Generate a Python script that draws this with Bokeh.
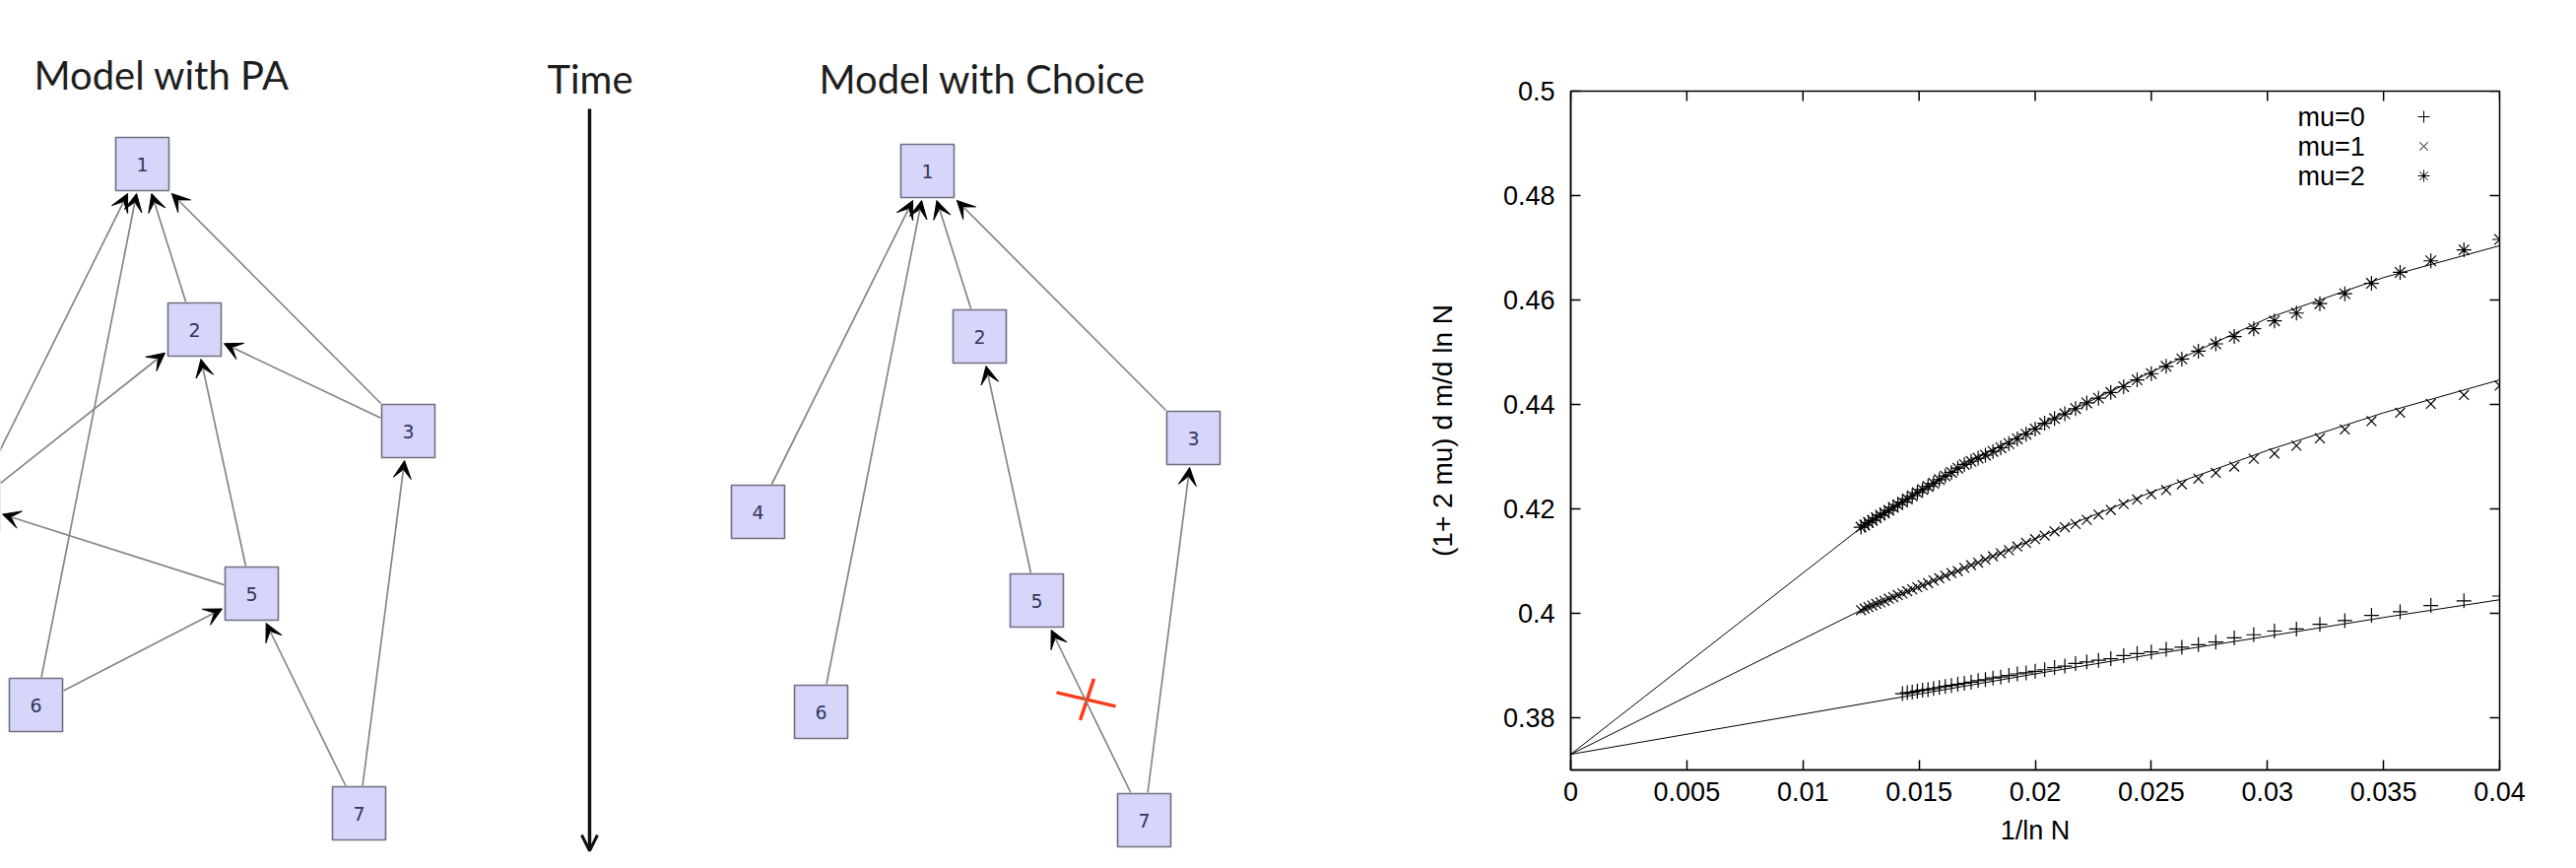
from bokeh.plotting import figure
from bokeh.layouts import row
from bokeh.models import (Range1d, Arrow, VeeHead, OpenHead, ColumnDataSource,
                          FixedTicker, CustomJSTickFormatter)
from bokeh.embed import file_html
from bokeh.resources import INLINE
from bokeh.core.properties import value

# ---------------- data: network diagrams ----------------
node_ids = ["1", "2", "3", "4", "5", "6", "7"]
node_x = [152, 205, 422, -20, 263, 44, 372]
node_y = [174, 342, 445, 520, 610, 723, 833]
pa_from = ["4", "6", "2", "3", "4", "3", "5", "5", "6", "7", "7"]
pa_to = ["1", "1", "1", "1", "2", "2", "2", "4", "5", "5", "3"]
choice_from = ["4", "6", "2", "3", "5", "7", "7"]
choice_to = ["1", "1", "1", "1", "2", "5", "3"]
rejected_edge = ["7", "5"]
panel_titles = ["Model with PA", "Time", "Model with Choice"]

# ---------------- data: scaling plot ----------------
x_ticks = [0, 0.005, 0.01, 0.015, 0.02, 0.025, 0.03, 0.035, 0.04]
y_ticks = [0.38, 0.4, 0.42, 0.44, 0.46, 0.48, 0.5]
series_names = ["mu=0", "mu=1", "mu=2"]
ln_n_mu0 = [70, 69, 68, 67, 66, 65, 64, 63, 62, 61, 60, 59, 58, 57, 56, 55, 54, 53, 52, 51,
            50, 49, 48, 47, 46, 45, 44, 43, 42, 41, 40, 39, 38, 37, 36, 35, 34, 33, 32, 31,
            30, 29, 28, 27, 26, 25]
ln_n_mu12 = [80, 79, 78, 77, 76, 75, 74, 73, 72, 71,
             70, 69, 68, 67, 66, 65, 64, 63, 62, 61, 60, 59, 58, 57, 56, 55, 54, 53, 52, 51,
             50, 49, 48, 47, 46, 45, 44, 43, 42, 41, 40, 39, 38, 37, 36, 35, 34, 33, 32, 31,
             30, 29, 28, 27, 26, 25]
mu0_y = [0.3846, 0.3848, 0.3849, 0.3851, 0.3853, 0.3854, 0.3856, 0.3858, 0.3860, 0.3862,
         0.3864, 0.3866, 0.3868, 0.3871, 0.3873, 0.3876, 0.3878, 0.3881, 0.3884, 0.3886,
         0.3889, 0.3892, 0.3896, 0.3899, 0.3904, 0.3907, 0.3910, 0.3913, 0.3919, 0.3923,
         0.3926, 0.3931, 0.3935, 0.3940, 0.3945, 0.3953, 0.3959, 0.3966, 0.3970, 0.3979,
         0.3986, 0.3996, 0.4003, 0.4015, 0.4024, 0.4033]
mu1_y = [0.4006, 0.4009, 0.4012, 0.4015, 0.4018, 0.4021, 0.4024, 0.4028, 0.4031, 0.4035,
         0.4038, 0.4042, 0.4046, 0.4050, 0.4054, 0.4058, 0.4063, 0.4067, 0.4072, 0.4077,
         0.4081, 0.4087, 0.4092, 0.4097, 0.4103, 0.4109, 0.4115, 0.4121, 0.4128, 0.4135,
         0.4142, 0.4149, 0.4157, 0.4165, 0.4171, 0.4179, 0.4189, 0.4198, 0.4209, 0.4218,
         0.4228, 0.4236, 0.4247, 0.4258, 0.4269, 0.4281, 0.4296, 0.4306, 0.4321, 0.4335,
         0.4352, 0.4368, 0.4384, 0.4401, 0.4418, 0.4436]
mu2_y = [0.4165, 0.4169, 0.4174, 0.4178, 0.4183, 0.4188, 0.4192, 0.4197, 0.4203, 0.4208,
         0.4213, 0.4219, 0.4225, 0.4231, 0.4237, 0.4243, 0.4249, 0.4256, 0.4263, 0.4270,
         0.4278, 0.4285, 0.4291, 0.4297, 0.4303, 0.4310, 0.4317, 0.4325, 0.4334, 0.4343,
         0.4353, 0.4364, 0.4373, 0.4382, 0.4392, 0.4403, 0.4412, 0.4423, 0.4434, 0.4447,
         0.4459, 0.4473, 0.4487, 0.4502, 0.4516, 0.4530, 0.4545, 0.4560, 0.4575, 0.4593,
         0.4612, 0.4632, 0.4653, 0.4675, 0.4696, 0.4716]
fit0_x = [0, 0.0143, 0.02, 0.025, 0.03, 0.035, 0.04]
fit_mu0 = [0.373, 0.3840, 0.3884, 0.3921, 0.3956, 0.3992, 0.4026]
fit12_x = [0, 0.0125, 0.015, 0.0175, 0.02, 0.025, 0.03, 0.035, 0.04]
fit_mu1 = [0.373, 0.4006, 0.4050, 0.4097, 0.4143, 0.4232, 0.4312, 0.4384, 0.4447]
fit_mu2 = [0.373, 0.4164, 0.4232, 0.4298, 0.4356, 0.4462, 0.4565, 0.4643, 0.4704]

# ================= left: diagrams =================
LEFT_W, H = 1410, 865
X0 = 8
lf = figure(width=LEFT_W, height=H, x_range=Range1d(X0, X0 + LEFT_W), y_range=Range1d(8 + H, 8),
            output_backend="svg", toolbar_location=None, min_border=0,
            x_axis_type=None, y_axis_type=None, frame_align=False)
lf.outline_line_color = None
lf.grid.visible = False
lf.background_fill_color = "white"

BOX = 54
HALF = BOX / 2
panels = [(0, 0, pa_from, pa_to), (797, 7, choice_from, choice_to)]


def clip(cx, cy, tx, ty, half):
    dx, dy = tx - cx, ty - cy
    t = min(half / abs(dx) if dx else 1e9, half / abs(dy) if dy else 1e9)
    return cx + dx * t, cy + dy * t


pos = {}
for pi, (ox, oy, efrom, eto) in enumerate(panels):
    xs = [x + ox for x in node_x]
    ys = [y + oy for y in node_y]
    for nid, x, y in zip(node_ids, xs, ys):
        pos[(pi, nid)] = (x, y)
    e = dict(x0=[], y0=[], x1=[], y1=[])
    for a, b in zip(efrom, eto):
        ax, ay = pos[(pi, a)]
        bx, by = pos[(pi, b)]
        sx, sy = clip(ax, ay, bx, by, HALF + 1)
        tx, ty = clip(bx, by, ax, ay, HALF + 3)
        e["x0"].append(sx); e["y0"].append(sy); e["x1"].append(tx); e["y1"].append(ty)
    lf.add_layout(Arrow(x_start="x0", y_start="y0", x_end="x1", y_end="y1",
                        source=ColumnDataSource(e), line_color="#858585", line_width=1.7,
                        end=VeeHead(size=18, fill_color="black", line_color="black", line_width=1)))
    lf.rect(xs, ys, width=BOX, height=BOX, fill_color="#d6d6fa", line_color="#6f6f80",
            line_width=1.6)
    # only label boxes whose centre falls inside the drawing (the reference crops box 4 on the left)
    vis = [i for i, x in enumerate(xs) if x >= X0]
    lf.text([xs[i] for i in vis], [ys[i] for i in vis], text=[node_ids[i] for i in vis],
            text_align="center", text_baseline="middle",
            text_font=value("DejaVu Sans"), text_font_size="19px", text_color="#34345a")

# rejected edge mark (red cross on 7 -> 5 in the choice panel)
(ax, ay), (bx, by) = pos[(1, rejected_edge[0])], pos[(1, rejected_edge[1])]
cx, cy = ax + (bx - ax) * 0.55, ay + (by - ay) * 0.55
lf.segment(x0=[cx - 29, cx + 9], y0=[cy - 7, cy - 21], x1=[cx + 31, cx - 5], y1=[cy + 7, cy + 21],
           line_color="#ff3a1a", line_width=3.5)

# titles and time arrow
lf.text(x=[42, 563, 839], y=[83, 87, 87], text=panel_titles, text_align="left",
        text_baseline="alphabetic", text_font=value("Lato"), text_font_size="40px",
        text_color="#1e1e1e")
lf.add_layout(Arrow(x_start=606, y_start=118, x_end=606, y_end=871, line_color="#111111",
                    line_width=3.5, end=OpenHead(size=16, line_width=3, line_color="#111111")))

# ================= right: scaling plot =================
RIGHT_W = 1189
FL, FT, FW, FH = 1602, 100, 943, 689
fig_left_px = 8 + LEFT_W
p = figure(width=RIGHT_W, height=H, x_range=Range1d(0, 0.04), y_range=Range1d(0.37, 0.5),
           output_backend="svg", toolbar_location=None, frame_align=False,
           min_border_left=FL - fig_left_px, min_border_right=(8 + LEFT_W + RIGHT_W) - (FL + FW),
           min_border_top=FT - 8, min_border_bottom=(8 + H) - (FT + FH))
p.grid.visible = False
p.outline_line_color = "black"
p.outline_line_width = 1.5
p.background_fill_color = "white"

FONT = value("Liberation Sans")
fmt = CustomJSTickFormatter(code="return tick.toString()")
for ax_ in (p.xaxis[0], p.yaxis[0]):
    ax_.major_tick_in = 10
    ax_.major_tick_out = 0
    ax_.minor_tick_line_color = None
    ax_.axis_line_width = 1.5
    ax_.major_tick_line_width = 1.5
    ax_.major_label_text_font = "Liberation Sans"
    ax_.major_label_text_font_size = "27px"
    ax_.major_label_text_color = "black"
    ax_.axis_label_text_font = "Liberation Sans"
    ax_.axis_label_text_font_size = "27px"
    ax_.axis_label_text_font_style = "normal"
    ax_.axis_label_text_color = "black"
    ax_.formatter = fmt
p.xaxis[0].ticker = FixedTicker(ticks=x_ticks)
p.yaxis[0].ticker = FixedTicker(ticks=y_ticks)
p.xaxis[0].axis_label = "1/ln N"
p.yaxis[0].axis_label = "(1+ 2 mu) d m/d ln N"
p.yaxis[0].axis_label_text_font_size = "28px"
p.xaxis[0].major_label_standoff = 12
p.xaxis[0].axis_label_standoff = 12
p.yaxis[0].major_label_standoff = 16
p.yaxis[0].axis_label_standoff = 43

# mirrored inward ticks on the top and right edges of the frame
tick_dy = 0.13 * 10 / FH
tick_dx = 0.04 * 10 / FW
p.segment(x0=x_ticks, y0=[0.5] * len(x_ticks), x1=x_ticks, y1=[0.5 - tick_dy] * len(x_ticks),
          line_color="black", line_width=1.5)
p.segment(x0=[0.04] * len(y_ticks), y0=y_ticks, x1=[0.04 - tick_dx] * len(y_ticks), y1=y_ticks,
          line_color="black", line_width=1.5)

x_mu0 = [1 / v for v in ln_n_mu0]
x_mu12 = [1 / v for v in ln_n_mu12]
p.line(fit0_x, fit_mu0, line_color="black", line_width=1)
p.line(fit12_x, fit_mu1, line_color="black", line_width=1)
p.line(fit12_x, fit_mu2, line_color="black", line_width=1)
p.scatter(x_mu0, mu0_y, marker="cross", size=15, line_color="black", line_width=1.2)
p.scatter(x_mu12, mu1_y, marker="x", size=14, line_color="black", line_width=1.2)
p.scatter(x_mu12, mu2_y, marker="asterisk", size=15, line_color="black", line_width=1.2)


def dx(px):
    return 0.04 * (px - FL) / FW


def dy(py):
    return 0.5 - 0.13 * (py - FT) / FH


leg_rows = [126, 156, 186]
p.text(x=[dx(2340)] * 3, y=[dy(v) for v in leg_rows], text=series_names, text_align="left",
       text_baseline="middle", text_font=FONT, text_font_size="27px", text_color="black")
for m, r in zip(["cross", "x", "asterisk"], leg_rows):
    p.scatter([dx(2468)], [dy(r)], marker=m, size=12, line_color="black", line_width=1)

layout = row(lf, p)
open("out.html", "w").write(file_html(layout, INLINE))
